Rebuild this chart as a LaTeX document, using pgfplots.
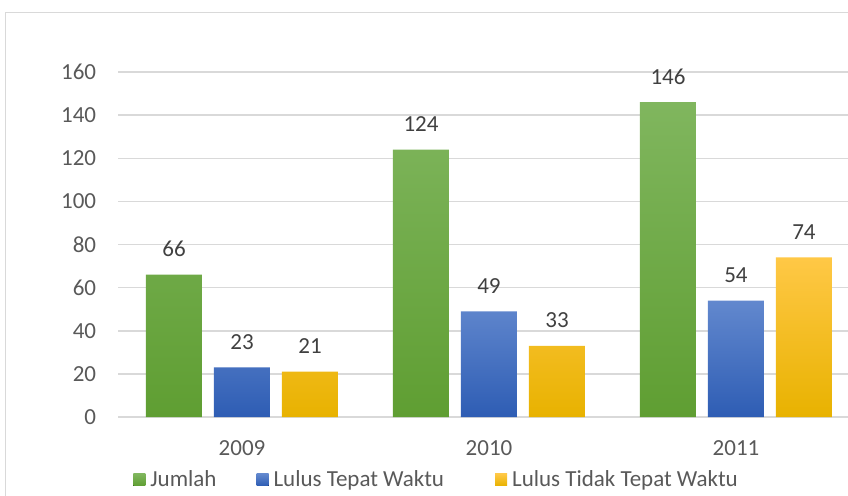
\documentclass[border=0pt]{standalone}
\usepackage{pgfplots}
\pgfplotsset{compat=1.18}
\usepackage{fontspec}
\setmainfont{Carlito}
\definecolor{gridc}{HTML}{D9D9D9}
\definecolor{tickc}{HTML}{595959}
\definecolor{labc}{HTML}{404040}
\definecolor{gtop}{RGB}{128,182,94}
\definecolor{gmid}{RGB}{112,173,71}
\definecolor{gbot}{RGB}{95,158,50}
\definecolor{btop}{RGB}{98,136,206}
\definecolor{bmid}{RGB}{68,114,196}
\definecolor{bbot}{RGB}{46,93,180}
\definecolor{ytop}{RGB}{255,200,70}
\definecolor{ymid}{RGB}{255,192,0}
\definecolor{ybot}{RGB}{232,178,0}
\pgfplotstableread{
x jumlah tepat tidak
0 66 23 21
1 124 49 33
2 146 54 74
}\datatable
\begin{document}
\begin{tikzpicture}
\useasboundingbox (0,0) rectangle (424pt,247.5pt);
\draw[gridc, line width=0.75pt] (2.75pt,-10pt) -- (2.75pt,241.25pt) -- (440pt,241.25pt);
\begin{axis}[
  at={(59.25pt,39pt)}, anchor=south west,
  scale only axis, width=370.5pt, height=172.5pt,
  xmin=-0.5, xmax=2.5, ymin=0, ymax=160,
  ytick={0,20,...,160},
  xtick={0,1,2}, xticklabels={2009,2010,2011},
  ymajorgrids, grid style={gridc, line width=0.75pt},
  axis line style={draw=none},
  major tick length=0pt,
  /pgf/number format/assume math mode=true,
  tick label style={font=\fontsize{11.5}{13}\selectfont, color=tickc},
  yticklabel style={anchor=east, inner sep=0pt, xshift=-11pt},
  xticklabel style={anchor=base, inner sep=0pt, yshift=-19pt},
  ybar=6pt, bar width=28pt,
  nodes near coords,
  nodes near coords style={font=\fontsize{11.5}{13}\selectfont, color=labc, anchor=base, inner sep=0pt, yshift=9pt},
  clip=false,
  legend columns=3,
  legend cell align=left,
  legend image code/.code={\fill[#1] (0pt,-3pt) rectangle (6pt,3pt);},
  legend style={at={(axis description cs:0.01957,-0.182)}, anchor=west,
    draw=none, fill=none, inner sep=0pt,
    font=\fontsize{11.5}{13}\selectfont, text=tickc,
    nodes={inner sep=0pt},
    /tikz/every even column/.append style={column sep=20pt},
    /tikz/every odd column/.append style={column sep=2.5pt}},
]
\addplot[draw=none, top color=gtop, middle color=gmid, bottom color=gbot] table[x=x,y=jumlah]{\datatable};
\addlegendentry{Jumlah}
\addplot[draw=none, top color=btop, middle color=bmid, bottom color=bbot] table[x=x,y=tepat]{\datatable};
\addlegendentry{Lulus Tepat Waktu\rule{5.5pt}{0pt}}
\addplot[draw=none, top color=ytop, middle color=ymid, bottom color=ybot] table[x=x,y=tidak]{\datatable};
\addlegendentry{Lulus Tidak Tepat Waktu}
\end{axis}
\end{tikzpicture}
\end{document}
